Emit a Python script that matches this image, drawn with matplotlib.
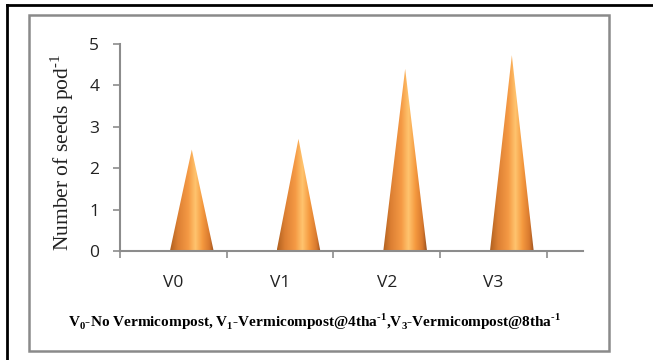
import numpy as np
import matplotlib
matplotlib.use("Agg")
import matplotlib.pyplot as plt
from matplotlib.colors import LinearSegmentedColormap
from matplotlib.patches import Polygon, Rectangle
from matplotlib.lines import Line2D

# ---- data ----
categories = ["V0", "V1", "V2", "V3"]
seeds_per_pod = [2.45, 2.71, 4.40, 4.73]
y_ticks = [0, 1, 2, 3, 4, 5]
y_label = "Number of seeds pod$^{\\text{-}1}$"
note = ("V$_\\mathbf{0}$-No Vermicompost, V$_\\mathbf{1}$-Vermicompost@4tha$^\\mathbf{\\text{-}1}$"
        ",V$_\\mathbf{3}$-Vermicompost@8tha$^\\mathbf{\\text{-}1}$")

plt.rcParams["mathtext.fontset"] = "custom"
plt.rcParams["mathtext.rm"] = "Liberation Serif"
plt.rcParams["mathtext.bf"] = "Liberation Serif:bold"

W, H = 653, 360
fig = plt.figure(figsize=(W / 100, H / 100), dpi=100)
fig.patch.set_facecolor("white")

def fx(px):
    return px / W

def fy(py):
    return 1 - py / H

# outer black frame (top and left)
fig.add_artist(Line2D([fx(7), fx(653)], [fy(5), fy(5)], color="black", lw=2.0,
                      transform=fig.transFigure))
fig.add_artist(Line2D([fx(7), fx(7)], [fy(5), fy(360)], color="black", lw=2.0,
                      transform=fig.transFigure))
# gray chart-area box
fig.add_artist(Rectangle((fx(29), fy(351)), fx(609) - fx(29), fy(15) - fy(351),
                         fill=False, edgecolor="#8a8a8a", lw=1.8,
                         transform=fig.transFigure))

ax = fig.add_axes([fx(120), fy(251), fx(583) - fx(120), fy(44) - fy(251)])

cmap = LinearSegmentedColormap.from_list(
    "cone",
    [(0.0, "#b0601f"), (0.18, "#dc7f33"), (0.42, "#f59a45"), (0.58, "#ffc46e"),
     (0.74, "#f5993f"), (0.9, "#d8792e"), (1.0, "#9a5220")])
grad = np.linspace(0, 1, 256).reshape(1, -1)

offset = 0.173
half_w = 0.205
for i, v in enumerate(seeds_per_pod):
    c = i + offset
    tri = Polygon([(c - half_w, 0), (c + half_w, 0), (c, v)], closed=True,
                  facecolor="none", edgecolor="none")
    ax.add_patch(tri)
    im = ax.imshow(grad, cmap=cmap, aspect="auto",
                   extent=(c - half_w, c + half_w, 0, v), zorder=2)
    im.set_clip_path(tri)

ax.set_xlim(-0.5, 3.84)
ax.set_ylim(0, 5)
ax.set_aspect("auto")

for s in ["top", "right"]:
    ax.spines[s].set_visible(False)
for s in ["left", "bottom"]:
    ax.spines[s].set_color("#8c8c8c")
    ax.spines[s].set_linewidth(1.5)

ax.set_yticks(y_ticks)
ax.set_yticklabels([str(t) for t in y_ticks])
ax.tick_params(axis="y", direction="out", length=5, width=1.2, color="#8c8c8c",
               pad=10, labelsize=12.5, labelcolor="#222222")
for lab in ax.get_yticklabels():
    lab.set_family("Open Sans")

ax.set_xticks([i - 0.5 for i in range(len(categories) + 1)])
ax.set_xticklabels([])
ax.tick_params(axis="x", which="major", direction="out", length=5, width=1.2,
               color="#8c8c8c")
ax.set_xticks(range(len(categories)), minor=True)
ax.set_xticklabels(categories, minor=True)
ax.tick_params(axis="x", which="minor", length=0, pad=17, labelsize=12.5,
               labelcolor="#222222")
for lab in ax.get_xticklabels(minor=True):
    lab.set_family("Open Sans")

fig.text(fx(62), fy(152), y_label, rotation=90, ha="center", va="center",
         family="Liberation Serif", fontsize=15.5, color="#222222")

fig.text(fx(315), fy(322), note, ha="center", va="center",
         family="Liberation Serif", fontweight="bold", fontsize=11,
         color="black")

fig.savefig("out.png", dpi=100)
